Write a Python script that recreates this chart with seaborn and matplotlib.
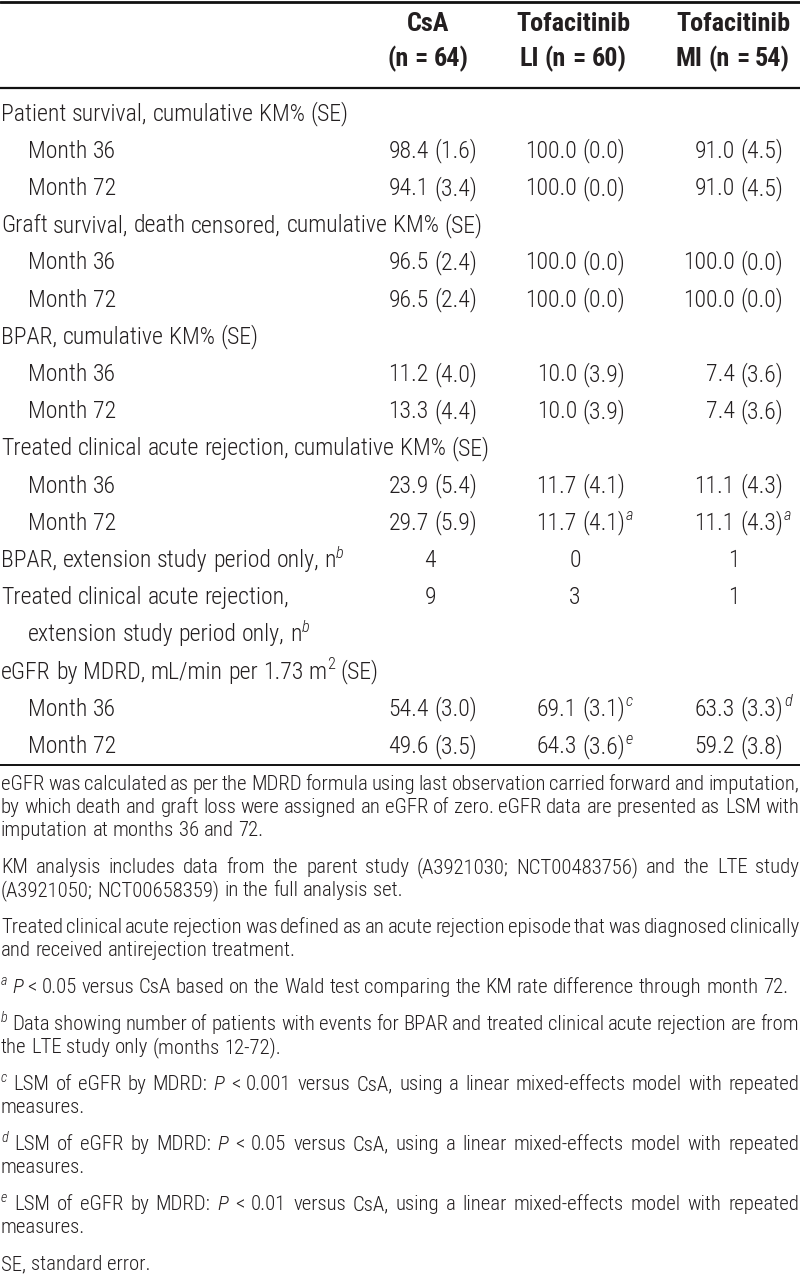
import re
import matplotlib
matplotlib.use("Agg")
import matplotlib.pyplot as plt
import seaborn as sns
from matplotlib import font_manager

sns.set_theme(style="white")

# condensed sans face closest to the journal's Helvetica Condensed
fonts = font_manager.fontManager.ttflist
installed = {f.name for f in fonts}
faces = [f for f in ["Liberation Sans Narrow", "Roboto Condensed", "Open Sans Condensed",
                     "Liberation Sans"] if f in installed]
plt.rcParams["font.family"] = faces[:1] + ["DejaVu Sans"]
has_light = any(f.name == faces[0] and f.weight in (300, "light") for f in fonts) if faces else False
LIGHT = "light" if has_light else "normal"

TXT = "#231f20"

# ---- table content ----
header_top = ["CsA", "Tofacitinib", "Tofacitinib"]
header_bottom = ["(n = 64)", "LI (n = 60)", "MI (n = 54)"]

row_labels = [
    "Patient survival, cumulative KM% (SE)", "Month 36", "Month 72",
    "Graft survival, death censored, cumulative KM% (SE)", "Month 36", "Month 72",
    "BPAR, cumulative KM% (SE)", "Month 36", "Month 72",
    "Treated clinical acute rejection, cumulative KM% (SE)", "Month 36", "Month 72",
    "BPAR, extension study period only, n^b^",
    "Treated clinical acute rejection,", "extension study period only, n^b^",
    "eGFR by MDRD, mL/min per 1.73 m~2~ (SE)", "Month 36", "Month 72",
]
row_indent = [0, 1, 1, 0, 1, 1, 0, 1, 1, 0, 1, 1, 0, 0, 1, 0, 1, 1]

csa = ["", "98.4 (1.6)", "94.1 (3.4)", "", "96.5 (2.4)", "96.5 (2.4)",
       "", "11.2 (4.0)", "13.3 (4.4)", "", "23.9 (5.4)", "29.7 (5.9)",
       "4", "9", "", "", "54.4 (3.0)", "49.6 (3.5)"]
tofa_li = ["", "100.0 (0.0)", "100.0 (0.0)", "", "100.0 (0.0)", "100.0 (0.0)",
           "", "10.0 (3.9)", "10.0 (3.9)", "", "11.7 (4.1)", "11.7 (4.1)^a^",
           "0", "3", "", "", "69.1 (3.1)^c^", "64.3 (3.6)^e^"]
tofa_mi = ["", "91.0 (4.5)", "91.0 (4.5)", "", "100.0 (0.0)", "100.0 (0.0)",
           "", "7.4 (3.6)", "7.4 (3.6)", "", "11.1 (4.3)", "11.1 (4.3)^a^",
           "1", "1", "", "", "63.3 (3.3)^d^", "59.2 (3.8)"]

footnotes = [
    ["eGFR was calculated as per the MDRD formula using last observation carried forward and imputation,",
     "by which death and graft loss were assigned an eGFR of zero. eGFR data are presented as LSM with",
     "imputation at months 36 and 72."],
    ["KM analysis includes data from the parent study (A3921030; NCT00483756) and the LTE study",
     "(A3921050; NCT00658359) in the full analysis set."],
    ["Treated clinical acute rejection was defined as an acute rejection episode that was diagnosed clinically",
     "and received antirejection treatment."],
    ["^a^ _P_ < 0.05 versus CsA based on the Wald test comparing the KM rate difference through month 72."],
    ["^b^ Data showing number of patients with events for BPAR and treated clinical acute rejection are from",
     "the LTE study only (months 12-72)."],
    ["^c^ LSM of eGFR by MDRD: _P_ < 0.001 versus CsA, using a linear mixed-effects model with repeated",
     "measures."],
    ["^d^ LSM of eGFR by MDRD: _P_ < 0.05 versus CsA, using a linear mixed-effects model with repeated",
     "measures."],
    ["^e^ LSM of eGFR by MDRD: _P_ < 0.01 versus CsA, using a linear mixed-effects model with repeated",
     "measures."],
    ["SE, standard error."],
]

# ---- layout (pixels) ----
W, H = 800, 1286
col_right = [477, 625, 783]
col_center = [430, 575, 734]
head_center = [428, 573, 733]
row_top, row_step = 112, 37.2
foot_top, foot_line, foot_para = 783, 23, 37

fig = plt.figure(figsize=(W / 100, H / 100), dpi=100)
ax = fig.add_axes([0, 0, 1, 1])
ax.set_xlim(0, W)
ax.set_ylim(H, 0)
ax.axis("off")
renderer = fig.canvas.get_renderer()

TOKEN = re.compile(r"\^(.+?)\^|~(.+?)~|_(.+?)_|([^\^~_]+)")


def parse(word):
    runs = []
    for m in TOKEN.finditer(word):
        sup_i, sup_u, ital, plain = m.groups()
        if sup_i:
            runs.append((sup_i, "sup_i"))
        elif sup_u:
            runs.append((sup_u, "sup"))
        elif ital:
            runs.append((ital, "i"))
        else:
            runs.append((plain, "n"))
    return runs


def make_word(word, size, weight):
    pieces = []
    for s, kind in parse(word):
        sup = kind.startswith("sup")
        t = ax.text(0, 0, s, fontsize=size * (0.68 if sup else 1),
                    fontstyle="italic" if kind in ("i", "sup_i") else "normal",
                    fontweight=weight, color=TXT, ha="left", va="baseline")
        pieces.append([t, t.get_window_extent(renderer).width, sup])
    return pieces


def space_w(size, weight):
    a = ax.text(0, 0, "n n", fontsize=size, fontweight=weight)
    b = ax.text(0, 0, "nn", fontsize=size, fontweight=weight)
    w = a.get_window_extent(renderer).width - b.get_window_extent(renderer).width
    a.remove()
    b.remove()
    return w


def line(text, x, base, size, weight=LIGHT, align="left", right=None, draw=True):
    words = [make_word(w, size, weight) for w in text.split(" ")]
    ws = [sum(p[1] for p in wd) for wd in words]
    sp = space_w(size, weight)
    if align == "justify" and len(words) > 1:
        sp = (right - x - sum(ws)) / (len(words) - 1)
    total = sum(ws) + sp * (len(words) - 1)
    if align == "center":
        x -= total / 2
    elif align == "right":
        x -= total
    for wd, w in zip(words, ws):
        xx = x
        for t, pw, sup in wd:
            if draw:
                t.set_position((xx, base - (0.55 * size if sup else 0)))
            else:
                t.remove()
            xx += pw
        x += w + sp
    return total


def fit(text, target, weight=LIGHT):
    return 10 * target / line(text, 0, 0, 10, weight, draw=False)


body = fit(row_labels[3], 481)
head = fit("Tofacitinib", 115, "bold")
foot = fit(footnotes[3][0], 786)

# rules
ax.axhline(1.5, color="#111111", lw=2.0)
ax.axhline(88, color="#111111", lw=1.6)
ax.axhline(765, color="#111111", lw=1.4)

# header
for c in range(3):
    line(header_top[c], head_center[c], 22 + head / 2, head, "bold", align="center")
    line(header_bottom[c], head_center[c], 57 + head / 2, head, "bold", align="center")

# body rows
for i, label in enumerate(row_labels):
    base = row_top + i * row_step + body / 2
    line(label, 1 + 27 * row_indent[i], base, body)
    for c, v in enumerate([csa[i], tofa_li[i], tofa_mi[i]]):
        if not v:
            continue
        if v.isdigit():
            line(v, col_center[c], base, body, align="center")
            continue
        val, _, sup = v.partition("^")
        line(val, col_right[c], base, body, align="right")
        if sup:
            line("^" + sup, col_right[c] + 1, base, body)

# footnotes, justified like the journal page
y = foot_top
for para in footnotes:
    for k, txt in enumerate(para):
        last = k == len(para) - 1
        line(txt, 1, y + foot / 2, foot, align="left" if last else "justify", right=799)
        if not last:
            y += foot_line
    y += foot_para

fig.savefig("out.png", dpi=100)
